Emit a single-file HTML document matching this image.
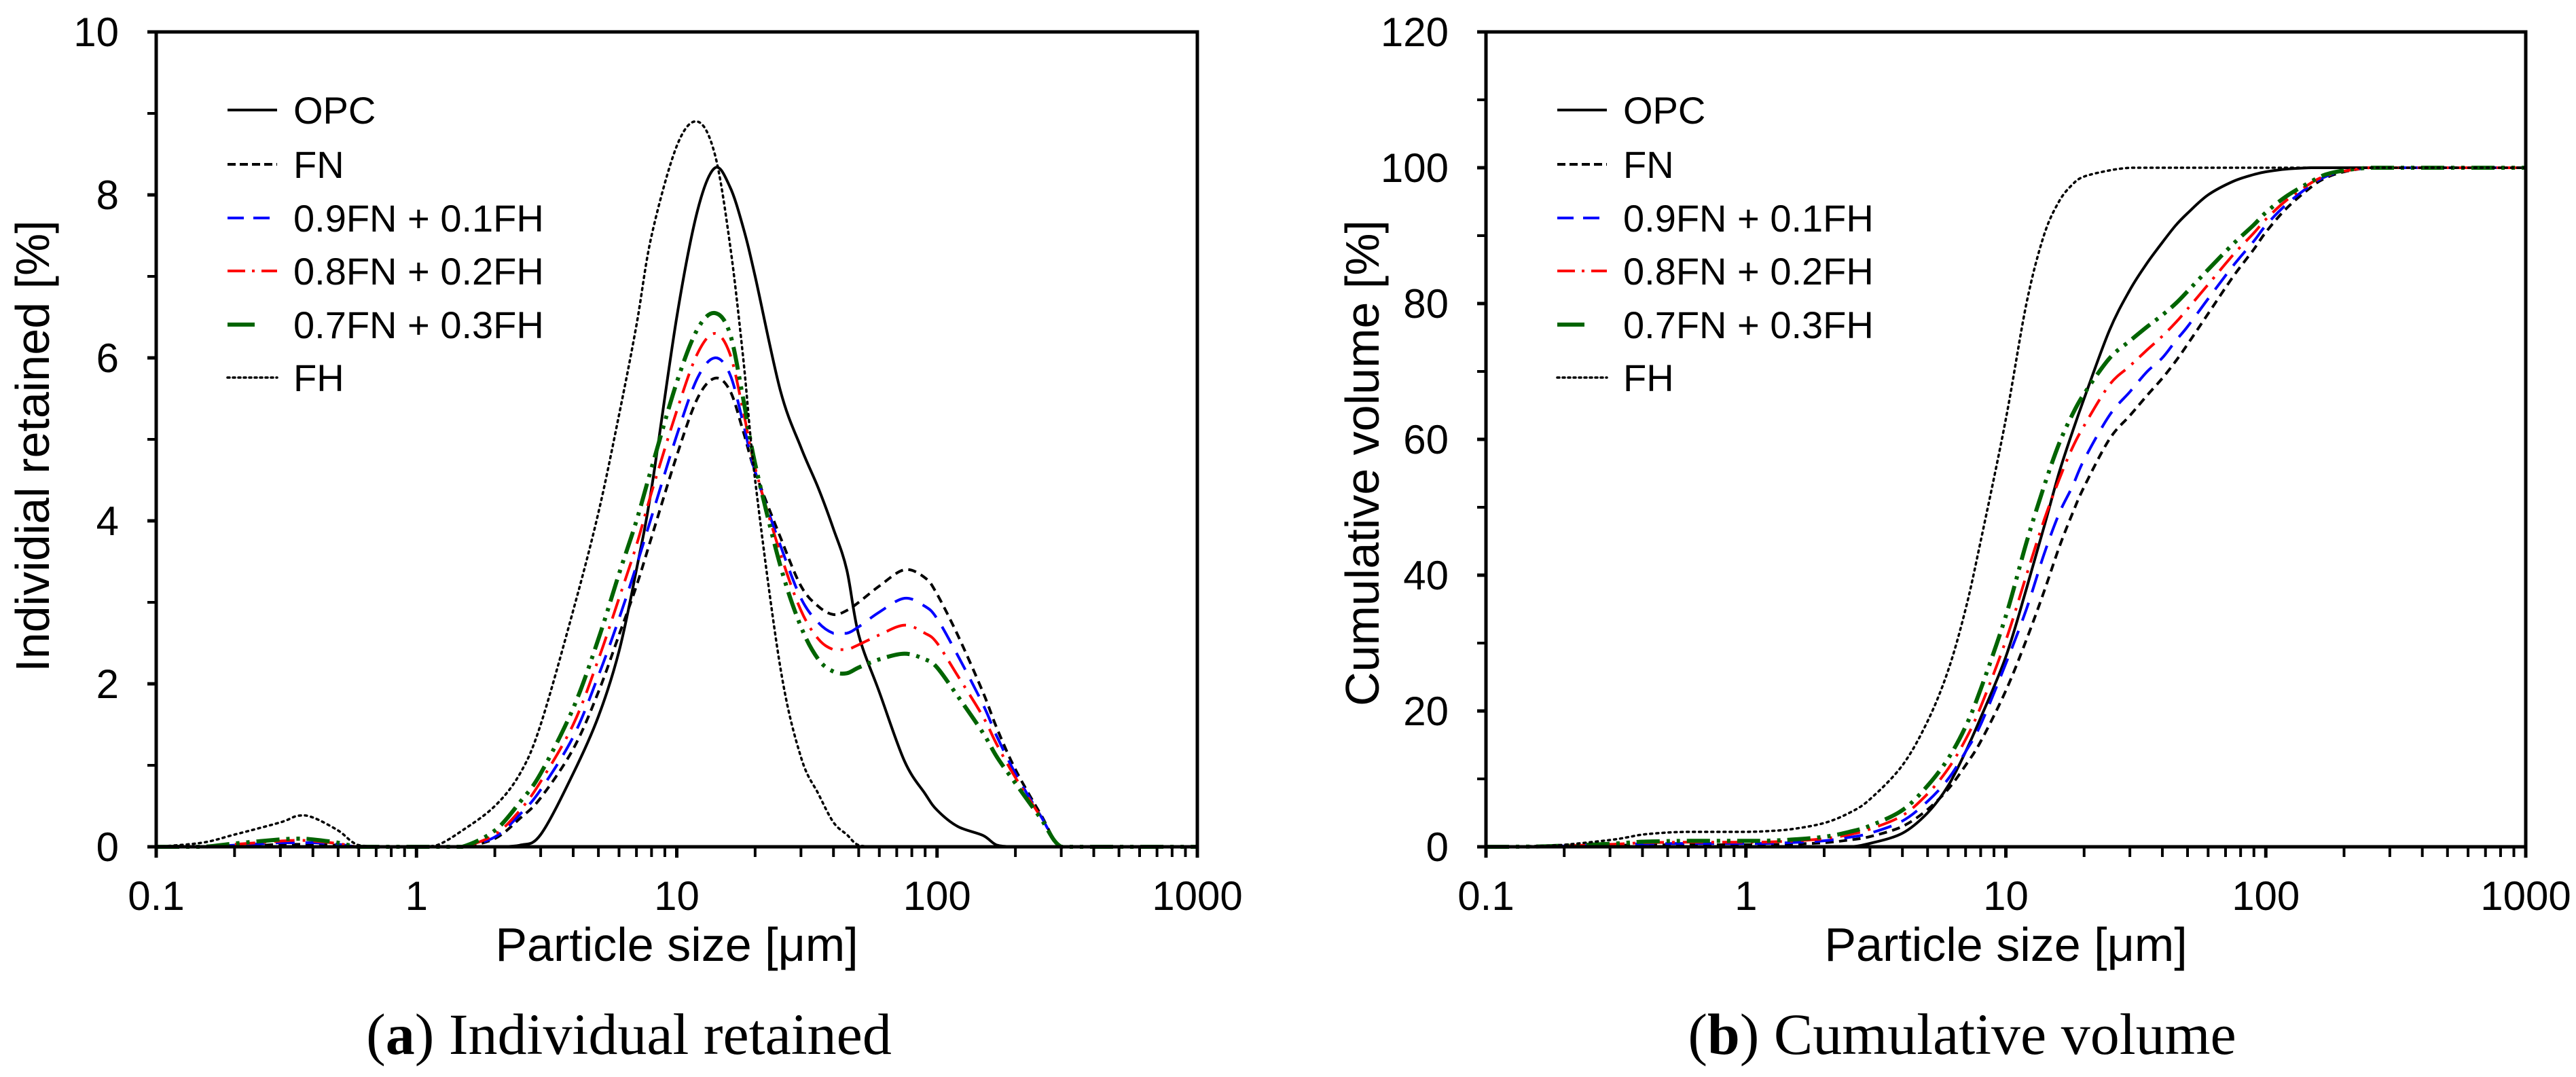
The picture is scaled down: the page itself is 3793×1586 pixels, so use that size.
<!DOCTYPE html>
<html><head><meta charset="utf-8"><style>
html,body{margin:0;padding:0;background:#fff;}
svg{display:block;}
text{font-family:"Liberation Sans",Arial,sans-serif;fill:#000;}
.cap{font-family:"Liberation Serif","Times New Roman",serif;}
</style></head><body>
<svg id="fig" width="3793" height="1586" viewBox="0 0 3793 1586" xmlns="http://www.w3.org/2000/svg"></svg>
<script>
const sizes=[0.1,0.15,0.2,0.3,0.35,0.4,0.5,0.6,0.8,1,1.2,1.5,2,2.5,3,4,5,6,7,8,10,12,14,16,18,20,25,30,35,40,45,50,60,75,90,100,120,150,170,200,250,300,400,1000];
const retOPC=[0,0,0,0,0,0,0,0,0,0,0,0,0,0.02,0.15,0.9,1.6,2.4,3.4,4.4,6.5,7.8,8.33,8.1,7.6,7.0,5.6,4.9,4.4,3.9,3.4,2.6,1.9,1.05,0.65,0.45,0.25,0.14,0.02,0,0,0,0,0];
const retFN=[0,0,0,0.03,0.03,0.03,0.02,0,0,0,0,0,0.1,0.35,0.6,1.2,1.9,2.6,3.2,3.8,4.8,5.5,5.75,5.6,5.1,4.6,3.8,3.2,2.95,2.85,2.9,3.0,3.2,3.4,3.3,3.1,2.6,1.9,1.45,0.95,0.4,0,0,0];
const retB=[0,0,0.02,0.05,0.05,0.05,0.03,0,0,0,0,0,0.12,0.4,0.7,1.35,2.1,2.8,3.45,4.05,5.05,5.75,6.0,5.8,5.2,4.6,3.7,3.05,2.75,2.62,2.62,2.7,2.88,3.05,2.95,2.8,2.35,1.75,1.35,0.9,0.38,0,0,0];
const retR=[0,0,0.03,0.07,0.08,0.07,0.04,0,0,0,0,0,0.15,0.45,0.8,1.5,2.3,3.05,3.7,4.35,5.35,6.05,6.3,6.05,5.35,4.65,3.6,2.9,2.55,2.42,2.42,2.48,2.6,2.72,2.62,2.5,2.1,1.6,1.25,0.85,0.37,0,0,0];
const retG=[0,0,0.04,0.09,0.1,0.09,0.05,0,0,0,0,0,0.2,0.55,0.9,1.7,2.55,3.35,4.0,4.65,5.7,6.35,6.55,6.3,5.5,4.7,3.45,2.7,2.3,2.15,2.13,2.2,2.3,2.37,2.3,2.2,1.85,1.4,1.1,0.78,0.35,0,0,0];
const retFH=[0,0.05,0.15,0.3,0.38,0.36,0.2,0.02,0,0,0.02,0.2,0.5,0.9,1.5,2.9,4.1,5.3,6.4,7.5,8.6,8.9,8.5,7.4,6.0,4.5,2.2,1.1,0.65,0.3,0.15,0.02,0,0,0,0,0,0,0,0,0,0,0,0];
const cumOPC=[0,0,0,0,0,0,0,0,0,0,0,0,0,0,0.5,2,5,9,14,19,28,38,47,55,61,66,76,82,86,89,91.5,93.3,96,98,99,99.4,99.8,100,100,100,100,100,100,100];
const cumFN=[0,0,0.1,0.2,0.25,0.3,0.3,0.3,0.3,0.3,0.3,0.4,0.6,1,1.5,3,5.5,8.5,12,15.5,23,30.5,37.5,44,49,53,60,63.5,66.5,69,71.5,74,78.5,84,88,90.5,94,97.2,98.5,99.4,100,100,100,100];
const cumB=[0,0,0.12,0.28,0.37,0.45,0.48,0.49,0.49,0.49,0.5,0.62,0.89,1.4,2.0,3.8,6.7,10,14,18,27,35,43,49,53,57,63.5,67,70,72,74.5,76.6,80.7,85.6,89.2,91.5,94.6,97.5,98.7,99.5,100,100,100,100];
const cumR=[0,0.02,0.14,0.36,0.48,0.6,0.66,0.68,0.68,0.68,0.7,0.84,1.2,1.8,2.6,4.6,7.8,11.5,15.8,20.6,30.4,40,48,54,58.7,62,68,70.8,73.2,75.2,77.2,79.2,82.8,87.2,90.4,92.4,95.2,97.8,98.8,99.5,100,100,100,100];
const cumG=[0,0.03,0.16,0.44,0.6,0.75,0.84,0.87,0.87,0.87,0.9,1.06,1.47,2.2,3.1,5.4,9,13,17.7,23.2,34,44.8,53,59.3,63.6,66.7,71.9,74.5,76.6,78.3,80,81.8,85,88.8,91.6,93.4,95.8,98,99,99.6,100,100,100,100];
const cumFH=[0,0.1,0.3,1,1.4,1.8,2.1,2.2,2.2,2.2,2.3,2.6,3.5,5,7,12,18.5,26,35,45,63,80,90,95,97.5,98.7,99.6,100,100,100,100,100,100,100,100,100,100,100,100,100,100,100,100,100];
const xTickLabels=["0.1","1","10","100","1000"];
const yTicksA=["0","2","4","6","8","10"];
const yTicksB=["0","20","40","60","80","100","120"];
const legendNames=["OPC","FN","0.9FN + 0.1FH","0.8FN + 0.2FH","0.7FN + 0.3FH","FH"];

const NS="http://www.w3.org/2000/svg";
const svg=document.getElementById('fig');
function mk(tag,attrs,parent){const e=document.createElementNS(NS,tag);for(const k in attrs)e.setAttribute(k,attrs[k]);(parent||svg).appendChild(e);return e;}
const styles=[
 {c:"#000",w:4,d:""},
 {c:"#000",w:4,d:"12 8"},
 {c:"#0000ff",w:4,d:"28 16"},
 {c:"#ff0000",w:4,d:"30 12 4 12"},
 {c:"#006400",w:6,d:"34 10 5 10 5 10"},
 {c:"#000",w:3.5,d:"3 6"}];
const slugs=["opc","fn","09fn-01fh","08fn-02fh","07fn-03fh","fh"];

function smoothPath(pts,yMax){
 // Catmull-Rom to bezier, control y clamped
 let d="M"+pts[0][0].toFixed(1)+","+pts[0][1].toFixed(1);
 for(let i=0;i<pts.length-1;i++){
  const p0=pts[Math.max(0,i-1)],p1=pts[i],p2=pts[i+1],p3=pts[Math.min(pts.length-1,i+2)];
  let c1x=p1[0]+(p2[0]-p0[0])/6,c1y=p1[1]+(p2[1]-p0[1])/6;
  let c2x=p2[0]-(p3[0]-p1[0])/6,c2y=p2[1]-(p3[1]-p1[1])/6;
  const lo=Math.min(p1[1],p2[1]),hi=Math.max(p1[1],p2[1]);
  if(p1[1]===p2[1]){c1y=p1[1];c2y=p2[1];}
  c1y=Math.min(c1y,yMax);c2y=Math.min(c2y,yMax);
  d+="C"+c1x.toFixed(1)+","+c1y.toFixed(1)+" "+c2x.toFixed(1)+","+c2y.toFixed(1)+" "+p2[0].toFixed(1)+","+p2[1].toFixed(1);
 }
 return d;
}

function panel(o){
 const g=mk('g',{});
 
 
 const L=o.L,R=o.R,T=47,B=1247;
 const dec=(R-L)/4;
 const xs=v=>L+(Math.log10(v)+1)*dec;
 const ys=v=>B-(v/o.ymax)*(B-T);
 o.series.forEach((s,i)=>{
  const pts=sizes.map((x,j)=>[xs(x),ys(s[j])]);
  const st=styles[i];
  const p=mk('path',{d:smoothPath(pts,B),fill:"none",stroke:st.c,"stroke-width":st.w,"stroke-dasharray":st.d,"stroke-linejoin":"round","stroke-linecap":i==5?"round":"butt"},g);
  
  
 });
 const fr=mk('rect',{x:L,y:T,width:R-L,height:B-T,fill:"none",stroke:"#000","stroke-width":5},g);
 
 
 for(let k=0;k<=4;k++){
  const v=Math.pow(10,k-1);
  mk('line',{x1:xs(v),y1:B,x2:xs(v),y2:B+16,stroke:"#000","stroke-width":5},g);
  const t=mk('text',{x:xs(v),y:1340,"font-size":60,"text-anchor":"middle"},g);
  t.textContent=xTickLabels[k];
  
  
  if(k<4)for(let m=2;m<=9;m++){const vv=v*m;mk('line',{x1:xs(vv),y1:B,x2:xs(vv),y2:B+15,stroke:"#000","stroke-width":4},g);}
 }
 o.ylabels.forEach((lab,i)=>{
  const v=+lab;
  mk('line',{x1:L-13,y1:ys(v),x2:L,y2:ys(v),stroke:"#000","stroke-width":5},g);
  const t=mk('text',{x:L-55,y:ys(v)+21,"font-size":60,"text-anchor":"end"},g);
  t.textContent=lab;
  
  
  if(i<o.ylabels.length-1){const vm=v+o.minor;mk('line',{x1:L-13,y1:ys(vm),x2:L,y2:ys(vm),stroke:"#000","stroke-width":4},g);}
 });
 const xt=mk('text',{x:(L+R)/2,y:1415,"font-size":70,"text-anchor":"middle"},g);
 xt.textContent="Particle size [\u03bcm]";
 
 
 const yt=mk('text',{x:0,y:0,"font-size":70,"text-anchor":"middle",transform:`translate(${o.ytx},${o.yty}) rotate(-90)`},g);
 yt.textContent=o.ytitle;
 
 
 const lg=mk('g',{},g);
 
 
 const rows=[162,242,321,399,478,556];
 legendNames.forEach((n,i)=>{
  const st=styles[i];
  const e=mk('g',{},lg);
  
  
  mk('line',{x1:L+105,y1:rows[i],x2:L+178,y2:rows[i],stroke:st.c,"stroke-width":st.w,"stroke-dasharray":i==1?"12 6":(i==2?"24 14":(i==3?"26 10 4 10":(i==4?"40 40":(i==5?"3 5":"")))),"stroke-linecap":i==5?"round":"butt"},e);
  const t=mk('text',{x:L+202,y:rows[i]+20,"font-size":56},e);
  t.textContent=n;
 });
 const cap=mk('text',{x:o.capx,y:1552,"font-size":86,"text-anchor":"middle","class":"cap"},g);
 cap.innerHTML='(<tspan font-weight="bold">'+o.capl+'</tspan>) '+o.capt;
 
 
}
panel({name:'chart-individual-retained',L:230,R:1763,ymax:10,minor:1,ylabels:yTicksA,ytitle:"Individial retained [%]",ytx:72,yty:657,
 series:[retOPC,retFN,retB,retR,retG,retFH],capx:926,capl:"a",capt:"Individual retained"});
panel({name:'chart-cumulative-volume',L:2188,R:3719,ymax:120,minor:10,ylabels:yTicksB,ytitle:"Cumulative volume [%]",ytx:2030,yty:682,
 series:[cumOPC,cumFN,cumB,cumR,cumG,cumFH],capx:2889,capl:"b",capt:"Cumulative volume"});
</script>
</body></html>
